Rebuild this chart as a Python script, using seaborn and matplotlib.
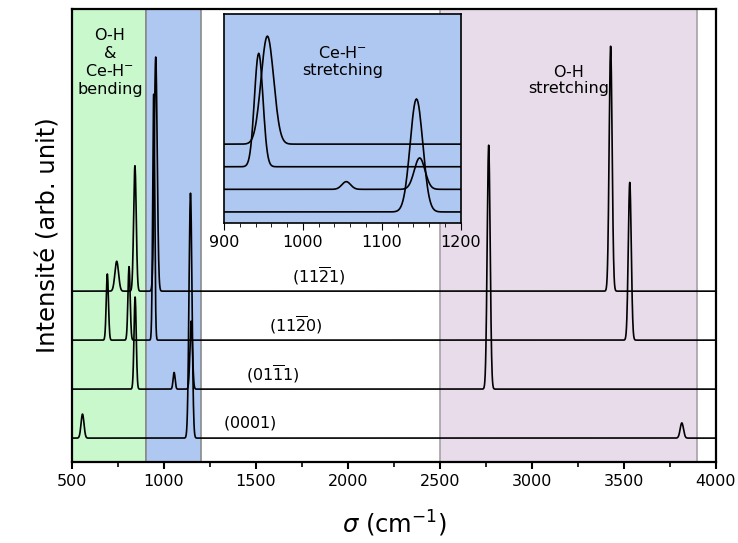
import numpy as np
import pandas as pd
import matplotlib
matplotlib.use("Agg")
import matplotlib.pyplot as plt
import seaborn as sns

# -------------------- Data (peak lists) --------------------
surfaces = [r"$(0001)$", r"$(01\overline{1}1)$", r"$(11\overline{2}0)$", r"$(11\overline{2}1)$"]
offsets = [0, 1, 2, 3]

# peak centres (cm-1), heights (arb.), widths (sigma, cm-1)
pos_0001 = [557, 1144, 3815]
amp_0001 = [0.49, 5.0, 0.31]
wid_0001 = [8, 8, 9]

pos_0111 = [843, 1055, 1148, 2765]
amp_0111 = [1.88, 0.34, 1.39, 4.98]
wid_0111 = [6, 5.5, 6.8, 8]

pos_1120 = [692, 810, 944, 3532]
amp_1120 = [1.35, 1.5, 5.02, 3.22]
wid_1120 = [6, 6, 5.4, 8]

pos_1121 = [743, 842, 955, 3428]
amp_1121 = [0.61, 2.56, 4.78, 5.0]
wid_1121 = [10, 7, 8, 8]

peaks = [(pos_0001, amp_0001, wid_0001), (pos_0111, amp_0111, wid_0111),
         (pos_1120, amp_1120, wid_1120), (pos_1121, amp_1121, wid_1121)]

label_x = [1467, 1592, 1717, 1842]

# -------------------- Build spectra --------------------
wn = np.arange(500, 4001, 1.0)
frames = []
for name, off, (pos, amp, wid) in zip(surfaces, offsets, peaks):
    y = np.full_like(wn, float(off))
    for p, a, w in zip(pos, amp, wid):
        y += a * np.exp(-0.5 * ((wn - p) / w) ** 2)
    frames.append(pd.DataFrame({"wn": wn, "I": y, "surface": name}))
df = pd.concat(frames, ignore_index=True)

sns.set_style("ticks")
plt.rcParams["font.family"] = ["DejaVu Sans"]
plt.rcParams.update({"text.color": "black", "axes.edgecolor": "black",
                     "axes.labelcolor": "black", "xtick.color": "black",
                     "ytick.color": "black"})

GREEN = "#c8f8cc"
BLUE = "#afc8f1"
PURPLE = "#e8dcea"
YLIM = (-0.49, 8.76)
FS = 11.5

fig = plt.figure(figsize=(7.38, 5.43), dpi=100)
ax = fig.add_axes([0.0976, 0.149, 0.8724, 0.8344])

ax.axvspan(500, 900, facecolor=GREEN, edgecolor="#8a8a8a", lw=1.2, zorder=0)
ax.axvspan(900, 1200, facecolor=BLUE, edgecolor="#8a8a8a", lw=1.2, zorder=0)
ax.axvspan(2500, 3900, facecolor=PURPLE, edgecolor="#a8a0a8", lw=1.2, zorder=0)

for name in surfaces:
    sns.lineplot(data=df[df["surface"] == name], x="wn", y="I", color="black",
                 lw=1.2, ax=ax, estimator=None, sort=False)

for name, off, lx in zip(surfaces, offsets, label_x):
    ax.text(lx, off + 0.31, name, ha="center", va="center", fontsize=FS)

ax.text(706, 7.67, "O-H\n&\nCe-H$^{-}$\nbending", ha="center", va="center",
        fontsize=FS, linespacing=1.2)
ax.text(3200, 7.3, "O-H\nstretching", ha="center", va="center", fontsize=FS,
        linespacing=1.15)

ax.set_xlim(500, 4000)
ax.set_ylim(*YLIM)
ax.set_yticks([])
ax.set_xticks(np.arange(500, 4001, 500))
ax.set_xticks(np.arange(750, 4000, 500), minor=True)
ax.tick_params(axis="x", which="major", length=5, width=1.5, labelsize=FS)
ax.tick_params(axis="x", which="minor", length=3.5, width=1.2)
for s in ax.spines.values():
    s.set_linewidth(1.6)
ax.set_xlabel(r"$\sigma$ (cm$^{-1}$)", fontsize=17.5, labelpad=14)
ax.set_ylabel("Intensité (arb. unit)", fontsize=17.5, labelpad=8)

# -------------------- Inset --------------------
ins = fig.add_axes([0.3035, 0.5893, 0.3207, 0.385])
ins.set_facecolor(BLUE)
for name in surfaces:
    sub = df[(df["surface"] == name) & (df["wn"] >= 900) & (df["wn"] <= 1200)]
    sns.lineplot(data=sub, x="wn", y="I", color="black", lw=1.2, ax=ins,
                 estimator=None, sort=False)
ins.text(1050, 6.65, "Ce-H$^{-}$\nstretching", ha="center", va="center",
         fontsize=FS, linespacing=1.2)
ins.set_xlim(900, 1200)
ins.set_ylim(*YLIM)
ins.set_yticks([])
ins.set_xticks([900, 1000, 1100, 1200])
ins.set_xticks(np.arange(920, 1200, 20), minor=True)
ins.tick_params(axis="x", which="major", length=5, labelsize=FS)
ins.tick_params(axis="x", which="minor", length=3)
ins.set_xlabel("")
ins.set_ylabel("")
for s in ins.spines.values():
    s.set_linewidth(1.2)

fig.savefig("out.png", dpi=100)
